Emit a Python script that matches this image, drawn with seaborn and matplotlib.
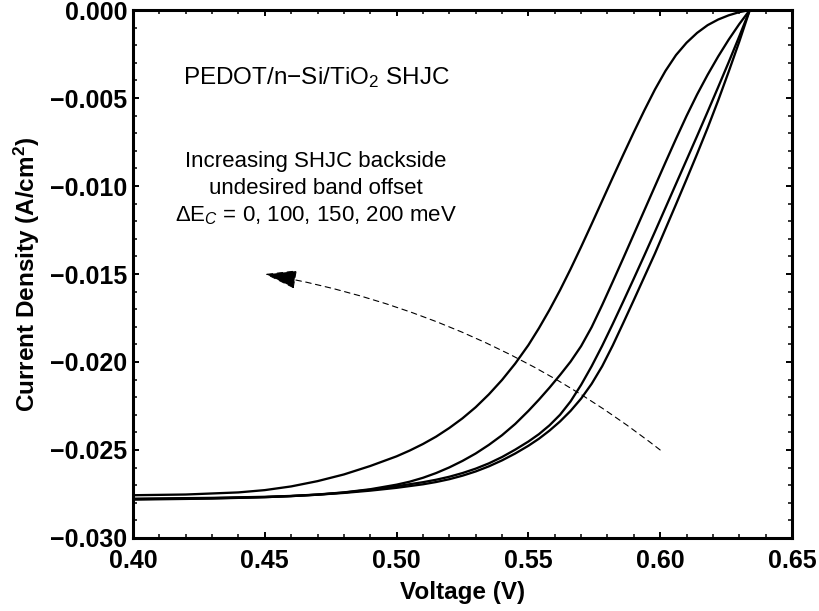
import numpy as np
import pandas as pd
import matplotlib
matplotlib.use("Agg")
import matplotlib.pyplot as plt
from matplotlib.ticker import MultipleLocator, FuncFormatter
import seaborn as sns

# ---- data (V in volts, J in A/cm^2) ----
v_200 = [0.634, 0.630, 0.626, 0.622, 0.618, 0.614, 0.610, 0.606, 0.602, 0.598,
         0.594, 0.590, 0.586, 0.582, 0.578, 0.574, 0.570, 0.566, 0.562, 0.558,
         0.554, 0.550, 0.545, 0.540, 0.535, 0.530, 0.525, 0.520, 0.515, 0.510,
         0.505, 0.500, 0.490, 0.480, 0.470, 0.460, 0.450, 0.440, 0.420, 0.400]
j_200 = [0.0, -0.00012, -0.00030, -0.00054, -0.00086, -0.00130, -0.00186, -0.00256, -0.00346, -0.00452,
         -0.00570, -0.00694, -0.00822, -0.00952, -0.01084, -0.01216, -0.01346, -0.01472, -0.01592, -0.01704,
         -0.01808, -0.01904, -0.02009, -0.02102, -0.02184, -0.02257, -0.02320, -0.02375, -0.02424, -0.02466,
         -0.02503, -0.02536, -0.02591, -0.02639, -0.02677, -0.02707, -0.02728, -0.02741, -0.02753, -0.02757]

v_150 = [0.634, 0.630, 0.626, 0.622, 0.618, 0.614, 0.610, 0.606, 0.602, 0.598,
         0.594, 0.590, 0.586, 0.582, 0.578, 0.574, 0.570, 0.566, 0.562, 0.558,
         0.554, 0.550, 0.545, 0.540, 0.535, 0.530, 0.525, 0.520, 0.515, 0.510,
         0.505, 0.500, 0.490, 0.480, 0.470, 0.460, 0.450, 0.430, 0.400]
j_150 = [0.0, -0.00080, -0.00168, -0.00264, -0.00368, -0.00480, -0.00602, -0.00732, -0.00866, -0.01002,
         -0.01138, -0.01274, -0.01410, -0.01544, -0.01676, -0.01802, -0.01910, -0.01998, -0.02074, -0.02146,
         -0.02214, -0.02278, -0.02352, -0.02416, -0.02471, -0.02520, -0.02562, -0.02599, -0.02631, -0.02658,
         -0.02680, -0.02697, -0.02723, -0.02741, -0.02753, -0.02761, -0.02766, -0.02772, -0.02777]

v_100 = [0.634, 0.630, 0.626, 0.622, 0.618, 0.614, 0.610, 0.606, 0.602, 0.598,
         0.594, 0.590, 0.586, 0.582, 0.578, 0.574, 0.570, 0.566, 0.562, 0.558,
         0.554, 0.550, 0.545, 0.540, 0.535, 0.530, 0.525, 0.520, 0.515, 0.510,
         0.500, 0.490, 0.480, 0.470, 0.460, 0.450, 0.430, 0.400]
j_100 = [0.0, -0.00150, -0.00296, -0.00438, -0.00578, -0.00716, -0.00852, -0.00988, -0.01124, -0.01260,
         -0.01394, -0.01526, -0.01656, -0.01784, -0.01908, -0.02024, -0.02130, -0.02224, -0.02300, -0.02360,
         -0.02410, -0.02452, -0.02498, -0.02540, -0.02576, -0.02606, -0.02631, -0.02652, -0.02669, -0.02683,
         -0.02706, -0.02726, -0.02742, -0.02754, -0.02762, -0.02768, -0.02774, -0.02779]

v_0 = [0.634, 0.630, 0.626, 0.622, 0.618, 0.614, 0.610, 0.606, 0.602, 0.598,
       0.594, 0.590, 0.586, 0.582, 0.578, 0.574, 0.570, 0.566, 0.562, 0.558,
       0.554, 0.550, 0.545, 0.540, 0.535, 0.530, 0.525, 0.520, 0.515, 0.510,
       0.500, 0.490, 0.480, 0.470, 0.460, 0.450, 0.430, 0.400]
j_0 = [0.0, -0.00180, -0.00350, -0.00514, -0.00670, -0.00818, -0.00962, -0.01104, -0.01244, -0.01384,
       -0.01516, -0.01648, -0.01778, -0.01906, -0.02024, -0.02124, -0.02208, -0.02278, -0.02338, -0.02390,
       -0.02436, -0.02476, -0.02520, -0.02559, -0.02593, -0.02622, -0.02646, -0.02666, -0.02682, -0.02695,
       -0.02715, -0.02731, -0.02744, -0.02754, -0.02762, -0.02768, -0.02776, -0.02782]

curves = {"200 meV": (v_200, j_200), "150 meV": (v_150, j_150),
          "100 meV": (v_100, j_100), "0 meV": (v_0, j_0)}

x_ticks = [0.40, 0.45, 0.50, 0.55, 0.60, 0.65]
y_ticks = [-0.030, -0.025, -0.020, -0.015, -0.010, -0.005, 0.000]

title_text = "PEDOT/n\u2212Si/TiO$_2$ SHJC"
note_lines = ["Increasing SHJC backside", "undesired band offset",
              "\u0394E$_C$ = 0, 100, 150, 200 meV"]
arrow_start = (0.600, -0.0250)
arrow_end = (0.450, -0.0150)

# ---- style ----
sns.set_theme(style="ticks")
plt.rcParams["font.family"] = ["Liberation Sans", "DejaVu Sans"]
plt.rcParams["mathtext.fontset"] = "custom"
plt.rcParams["mathtext.rm"] = "Liberation Sans"
plt.rcParams["mathtext.it"] = "Liberation Sans:italic"
plt.rcParams["mathtext.bf"] = "Liberation Sans:bold"
for key in ["text.color", "axes.labelcolor", "xtick.color", "ytick.color", "axes.edgecolor"]:
    plt.rcParams[key] = "black"

fig = plt.figure(figsize=(8.19, 6.11), dpi=100)
ax = fig.add_axes([0.1624, 0.1195, 0.8046, 0.8641])

for name, (v, j) in curves.items():
    df = pd.DataFrame({"V": v, "J": j})
    sns.lineplot(data=df, x="V", y="J", ax=ax, color="black", lw=1.65,
                 sort=False, estimator=None)

ax.set_xlim(0.40, 0.65)
ax.set_ylim(-0.030, 0.000)
ax.set_xticks(x_ticks)
ax.set_yticks(y_ticks)
ax.xaxis.set_minor_locator(MultipleLocator(0.01))
ax.yaxis.set_minor_locator(MultipleLocator(0.001))
ax.xaxis.set_major_formatter(FuncFormatter(lambda v, p: f"{v:.2f}"))
def yfmt(v, p):
    s = f"{v:.3f}"
    if s == "-0.000":
        s = "0.000"
    return s.replace("-", "\u2212")
ax.yaxis.set_major_formatter(FuncFormatter(yfmt))

ax.tick_params(which="both", direction="in", top=True, right=True, color="black",
               labelcolor="black")
ax.tick_params(which="major", length=4.5, width=1.4, labelsize=18)
ax.tick_params(axis="y", which="major", pad=4)
ax.tick_params(axis="x", which="major", pad=8)
ax.tick_params(which="minor", length=2.6, width=1.1)
for lab in ax.get_xticklabels() + ax.get_yticklabels():
    lab.set_fontweight("bold")
for s in ax.spines.values():
    s.set_linewidth(2.2)
    s.set_color("black")

ax.set_xlabel("Voltage (V)", fontsize=17.5, fontweight="bold", labelpad=6, color="black")
ax.set_ylabel("Current Density (A/cm$^\\mathbf{2}$)", fontsize=17.5, fontweight="bold",
              labelpad=6, color="black")

ax.text(0.4694, -0.00384, title_text, fontsize=17.5, ha="center", va="center", color="black")
for i, line in enumerate(note_lines):
    ax.text(0.4694, -0.00863 - i * 0.00153, line, fontsize=16, ha="center", va="center",
            color="black")

ax.annotate("", xy=arrow_end, xytext=arrow_start,
            arrowprops=dict(arrowstyle="-|>,head_length=1.7,head_width=0.5",
                            connectionstyle="arc3,rad=0.125", color="black",
                            lw=0.8, linestyle=(0, (5, 4)), shrinkA=0, shrinkB=0))

fig.savefig("out.png", dpi=100)
